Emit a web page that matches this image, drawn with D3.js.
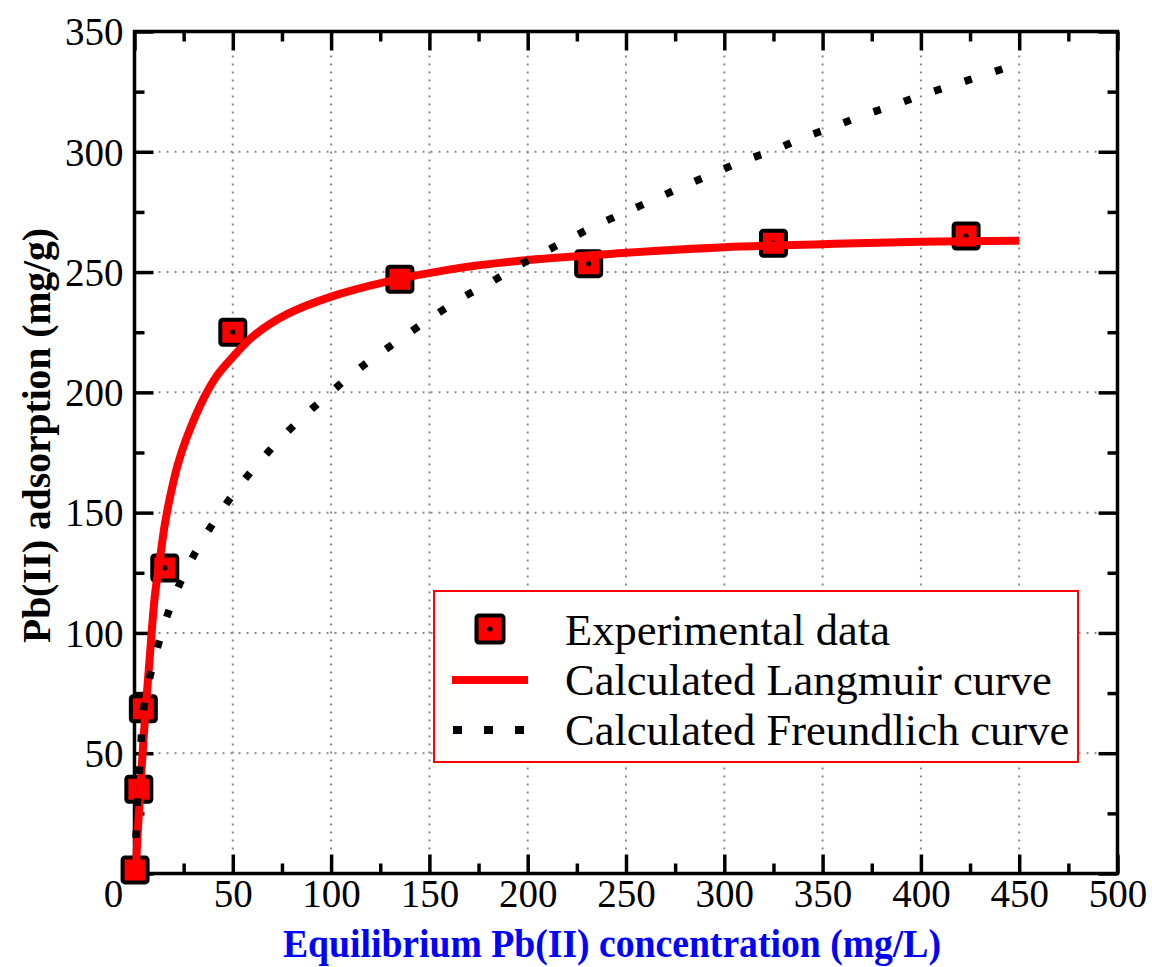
<!DOCTYPE html>
<html>
<head>
<meta charset="utf-8">
<script src="https://cdn.jsdelivr.net/npm/d3@7"></script>
<style>
  html, body { margin: 0; padding: 0; background: #fff; }
  svg { display: block; }
  text { font-family: "Liberation Serif", "Times New Roman", serif; }
</style>
</head>
<body>
<svg id="chart" width="1152" height="967"></svg>
<script>
// ---------------- data ----------------
const xTickValues = [0, 50, 100, 150, 200, 250, 300, 350, 400, 450, 500];
const yTickValues = [0, 50, 100, 150, 200, 250, 300, 350];
const xMinorTicks = [25, 75, 125, 175, 225, 275, 325, 375, 425, 475];
const yMinorTicks = [25, 75, 125, 175, 225, 275, 325];

// Experimental data (Ce, qe)
const expC = [0.3, 2.2, 4.5, 15.4, 50, 135, 231, 325, 423];
const expQ = [1.5, 35, 68.5, 127, 225, 247, 253.5, 262, 265];

// Calculated Langmuir curve
const langC = [0.6, 1.5, 3, 5.3, 7.9, 10.3, 13.3, 15.4, 18.2, 22, 26.7, 35.2, 42, 48.7, 60.6, 77.6, 99.4, 128.4, 160, 200, 250, 300, 350, 400, 450];
const langQ = [0, 15, 36, 64, 91.5, 115, 133, 145, 157, 170, 181.5, 197.5, 207, 213.5, 223.5, 232.5, 239.6, 246, 251, 255, 258, 260.3, 261.6, 262.6, 263];

// Calculated Freundlich curve
const freuC = [0.8, 1.4, 2.4, 3.3, 4.5, 7.4, 11.3, 16, 21.6, 28.4, 36.5, 45.4, 55, 65.4, 76.4, 88.1, 100.1, 112.3, 125.5, 165.6, 179.6, 193.5, 207.6, 222, 236.3, 251.3, 266.3, 280.8, 295.3, 310, 325.3, 340, 355.3, 369.5, 385.2, 400.8, 416.3, 432, 447.4, 450];
const freuQ = [14.8, 28.5, 40.9, 54.1, 67.2, 80.1, 92.9, 105.7, 117.8, 129.6, 141.1, 152.2, 162.8, 172.8, 182.5, 191.5, 200.2, 208.6, 216.6, 238.8, 245, 251.8, 258, 264.1, 270, 275.4, 280.9, 286.2, 291.3, 296.3, 300.7, 305.8, 310.3, 314.8, 319.1, 323.6, 327.7, 331.9, 336.0, 336.7];

const legendLabels = ["Experimental data", "Calculated Langmuir curve", "Calculated Freundlich curve"];
const xTitle = "Equilibrium Pb(II) concentration (mg/L)";
const yTitle = "Pb(II) adsorption (mg/g)";

// ---------------- layout ----------------
const svg = d3.select("#chart");
const x = d3.scaleLinear().domain([0, 500]).range([134.5, 1117.5]);
const y = d3.scaleLinear().domain([0, 350]).range([873.5, 31.5]);
const X0 = x.range()[0], X1 = x.range()[1], Y0 = y.range()[0], Y1 = y.range()[1];

svg.append("rect").attr("width", 1152).attr("height", 967).attr("fill", "#fff");

// grid
const grid = svg.append("g").attr("stroke", "#8a8a8a").attr("stroke-width", 2).attr("stroke-dasharray", "2,6");
grid.selectAll(".gx").data(xTickValues.slice(1, -1)).join("line")
  .attr("x1", d => x(d)).attr("x2", d => x(d)).attr("y1", Y0).attr("y2", Y1);
grid.selectAll(".gy").data(yTickValues.slice(1, -1)).join("line")
  .attr("y1", d => y(d)).attr("y2", d => y(d)).attr("x1", X0).attr("x2", X1);

// axes
const fontSize = 39;
function styleAxis(g) {
  g.select(".domain").remove();
  g.selectAll(".tick line").attr("stroke", "#000").attr("stroke-width", 3.5);
  g.selectAll(".tick text").attr("fill", "#000").style("font-size", fontSize + "px")
    .style("font-family", "'Liberation Serif', 'Times New Roman', serif");
}
const gB = svg.append("g").attr("transform", `translate(0,${Y0})`)
  .call(d3.axisBottom(x).tickValues(xTickValues).tickSize(-19).tickPadding(6).tickFormat(d3.format("d")));
styleAxis(gB);
gB.selectAll(".tick text").attr("dy", "0.71em");
gB.selectAll(".tick").filter(d => d === 0).select("text").attr("dx", -21.5);

const gBm = svg.append("g").attr("transform", `translate(0,${Y0})`)
  .call(d3.axisBottom(x).tickValues(xMinorTicks).tickSize(-10).tickFormat(""));
styleAxis(gBm);

const gL = svg.append("g").attr("transform", `translate(${X0},0)`)
  .call(d3.axisLeft(y).tickValues(yTickValues).tickSize(-19).tickPadding(11).tickFormat(d3.format("d")));
styleAxis(gL);
gL.selectAll(".tick text").attr("dy", "0.34em");
gL.selectAll(".tick").filter(d => d === 0).select("text").remove();
const gLm = svg.append("g").attr("transform", `translate(${X0},0)`)
  .call(d3.axisLeft(y).tickValues(yMinorTicks).tickSize(-10).tickFormat(""));
styleAxis(gLm);

const gT = svg.append("g").attr("transform", `translate(0,${Y1})`)
  .call(d3.axisTop(x).tickValues(xTickValues).tickSize(-19).tickFormat(""));
styleAxis(gT);
const gTm = svg.append("g").attr("transform", `translate(0,${Y1})`)
  .call(d3.axisTop(x).tickValues(xMinorTicks).tickSize(-10).tickFormat(""));
styleAxis(gTm);
const gR = svg.append("g").attr("transform", `translate(${X1},0)`)
  .call(d3.axisRight(y).tickValues(yTickValues).tickSize(-19).tickFormat(""));
styleAxis(gR);
const gRm = svg.append("g").attr("transform", `translate(${X1},0)`)
  .call(d3.axisRight(y).tickValues(yMinorTicks).tickSize(-10).tickFormat(""));
styleAxis(gRm);

// frame
svg.append("rect").attr("x", X0).attr("y", Y1).attr("width", X1 - X0).attr("height", Y0 - Y1)
  .attr("fill", "none").attr("stroke", "#000").attr("stroke-width", 3.5);

// experimental markers
const expData = expC.map((c, i) => ({ c, q: expQ[i] }));
const S = 25;
svg.append("g").selectAll("rect").data(expData).join("rect")
  .attr("x", d => x(d.c) - S / 2).attr("y", d => y(d.q) - S / 2)
  .attr("width", S).attr("height", S).attr("rx", 2.5)
  .attr("fill", "#ff0000").attr("stroke", "#000").attr("stroke-width", 4);
svg.append("g").selectAll("circle").data(expData).join("circle")
  .attr("cx", d => x(d.c)).attr("cy", d => y(d.q)).attr("r", 2.6).attr("fill", "#000");

// curves
const line = d3.line().x(d => x(d[0])).y(d => y(d[1])).curve(d3.curveCatmullRom.alpha(0.5));
svg.append("path").datum(langC.map((c, i) => [c, langQ[i]]))
  .attr("d", line).attr("fill", "none").attr("stroke", "#ff0000").attr("stroke-width", 8);

svg.append("path").datum(freuC.map((c, i) => [c, freuQ[i]]))
  .attr("d", line).attr("fill", "none").attr("stroke", "#000").attr("stroke-width", 7.5)
  .attr("stroke-dasharray", "7.5,24.5").attr("stroke-linecap", "butt");

// axis titles
svg.append("text").attr("x", 612).attr("y", 957).attr("text-anchor", "middle")
  .attr("textLength", 658).attr("lengthAdjust", "spacingAndGlyphs")
  .style("font-size", "39px").style("font-weight", "bold").attr("fill", "#0000ff").text(xTitle);
svg.append("text").attr("transform", "translate(50,435.5) rotate(-90)").attr("text-anchor", "middle")
  .attr("textLength", 415).attr("lengthAdjust", "spacingAndGlyphs")
  .style("font-size", "39px").style("font-weight", "bold").attr("fill", "#000").text(yTitle);

// legend
const lg = svg.append("g");
lg.append("rect").attr("x", 434).attr("y", 591).attr("width", 644).attr("height", 171)
  .attr("fill", "#fff").attr("stroke", "#ff0000").attr("stroke-width", 2);
const rowY = [629, 680, 730];
lg.append("rect").attr("x", 490 - 13.5).attr("y", rowY[0] - 13.5).attr("width", 27).attr("height", 27)
  .attr("rx", 2.5).attr("fill", "#ff0000").attr("stroke", "#000").attr("stroke-width", 4);
lg.append("circle").attr("cx", 490).attr("cy", rowY[0]).attr("r", 2.6).attr("fill", "#000");
lg.append("line").attr("x1", 452).attr("x2", 528).attr("y1", rowY[1]).attr("y2", rowY[1])
  .attr("stroke", "#ff0000").attr("stroke-width", 8);
lg.append("line").attr("x1", 453).attr("x2", 528).attr("y1", rowY[2]).attr("y2", rowY[2])
  .attr("stroke", "#000").attr("stroke-width", 8).attr("stroke-dasharray", "9,22");
lg.selectAll("text").data(legendLabels).join("text")
  .attr("x", 565).attr("y", (d, i) => [644.5, 694.5, 744.5][i])
  .style("font-size", "44.5px").attr("fill", "#000").text(d => d);
</script>
</body>
</html>
